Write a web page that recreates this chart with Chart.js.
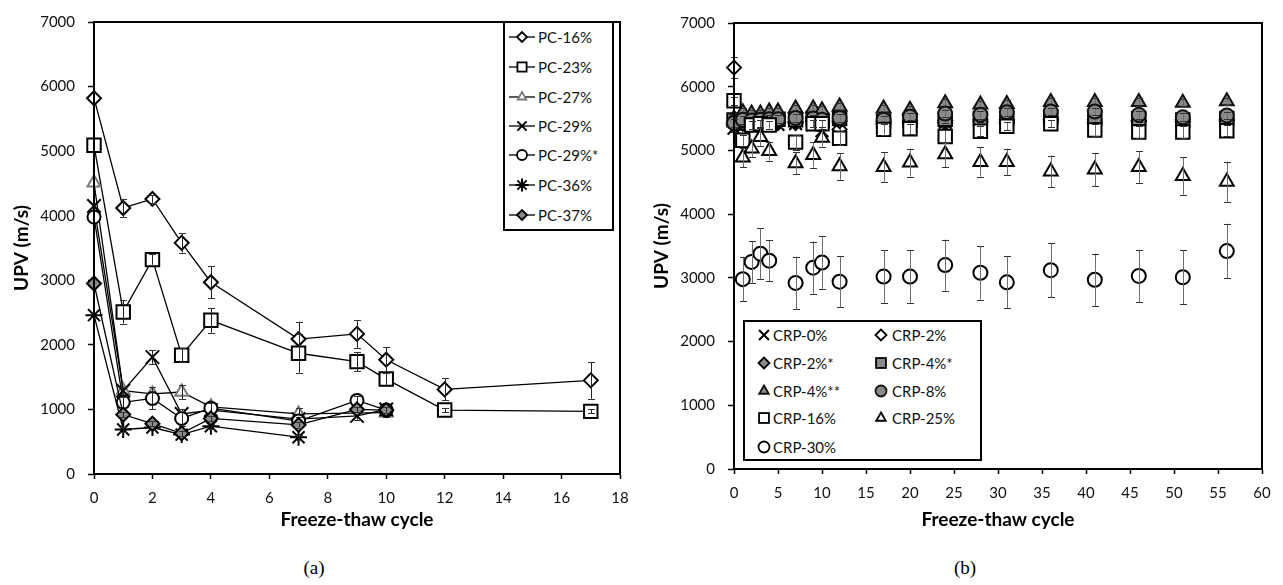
<!DOCTYPE html>
<html><head><meta charset="utf-8">
<script src="https://cdn.jsdelivr.net/npm/chart.js@4/dist/chart.umd.min.js"></script>
<style>
body{margin:0;background:#fff;}
#page{position:relative;width:1283px;height:585px;overflow:hidden;background:#fff;font-family:Lato,sans-serif;}
.wrap{position:absolute;top:0;height:531px;}
.legend{position:absolute;border:2px solid #000;box-sizing:border-box;background:#fff;}
.item{position:absolute;height:16px;display:flex;align-items:center;font-size:15px;white-space:nowrap;color:#111;}
.item svg{flex:none;}
.cap{position:absolute;font-family:'Liberation Serif',serif;font-size:19px;transform:translate(-50%,-50%);color:#000;}
</style></head>
<body><div id="page">
<div class="wrap" style="left:0;width:640px"><canvas id="ca"></canvas></div>
<div class="wrap" style="left:640px;width:643px"><canvas id="cb"></canvas></div>
<div class="legend" style="left:503px;top:21px;width:111px;height:210px"></div>
<div class="legend" style="left:743px;top:320px;width:239px;height:141px"></div>
<div class="cap" style="left:314px;top:568px">(a)</div>
<div class="cap" style="left:965px;top:568px">(b)</div>
</div>
<script>
// ---------- data: chart (a) ----------
const aNames = ['PC-16%','PC-23%','PC-27%','PC-29%','PC-29%*','PC-36%','PC-37%'];
const pc16X = [0,1,2,3,4,7,9,10,12,17];
const pc16Y = [5820,4120,4260,3580,2970,2090,2170,1770,1310,1450];
const pc16E = [0,140,60,150,245,270,215,190,170,285];
const pc23X = [0,1,2,3,4,7,9,10,12,17];
const pc23Y = [5090,2510,3320,1840,2380,1870,1740,1470,990,970];
const pc23E = [0,180,80,110,190,300,150,100,30,30];
const pc27X = [0,1,2,3,4,7,10];
const pc27Y = [4510,1290,1240,1270,1040,930,950];
const pc27E = [0,60,100,110,60,90,60];
const pc29X = [0,1,2,3,4,7,9,10];
const pc29Y = [4150,1290,1810,930,990,850,900,1000];
const pc29E = [0,60,110,80,60,60,60,60];
const pc29sX = [0,1,2,3,4,7,9,10];
const pc29sY = [3980,1110,1170,860,1020,820,1140,990];
const pc29sE = [0,90,170,110,80,60,70,60];
const pc36X = [0,1,2,3,4,7];
const pc36Y = [2460,690,720,610,740,570];
const pc36E = [0,40,40,40,40,40];
const pc37X = [0,1,2,3,4,7,9,10];
const pc37Y = [2950,920,780,630,860,760,1000,990];
const pc37E = [0,40,40,40,40,40,40,40];
const aXTicks = [0,2,4,6,8,10,12,14,16,18];
const yTicks = [0,1000,2000,3000,4000,5000,6000,7000];

// ---------- data: chart (b) ----------
const bNames = ['CRP-0%','CRP-2%','CRP-2%*','CRP-4%*','CRP-4%**','CRP-8%','CRP-16%','CRP-25%','CRP-30%'];
const crpX   = [0,1,2,3,4,5,7,9,10,12,17,20,24,28,31,36,41,46,51,56];
const crp16X = [0,1,2,3,4,7,9,10,12,17,20,24,28,31,36,41,46,51,56];
const crpLX  = [1,2,3,4,7,9,10,12,17,20,24,28,31,36,41,46,51,56];
const crp0Y   = [5350,5380,5390,5400,5400,5410,5420,5400,5310,5320,5410,5420,5440,5430,5440,5450,5430,5420,5430,5430];
const crp2Y   = [6300,5420,5410,5400,5420,5430,5430,5450,5420,5330,5420,5430,5430,5450,5440,5460,5440,5450,5450,5460];
const crp2sY  = [5400,5420,5430,5440,5440,5450,5450,5460,5450,5460,5450,5460,5470,5480,5480,5490,5480,5470,5480,5490];
const crp4sY  = [5480,5470,5480,5470,5480,5490,5480,5500,5470,5500,5460,5470,5490,5500,5510,5520,5510,5500,5480,5500];
const crp4ssY = [5500,5600,5580,5580,5610,5610,5660,5660,5630,5690,5660,5640,5740,5720,5730,5760,5760,5760,5750,5770];
const crp8Y   = [5430,5480,5470,5480,5490,5490,5510,5500,5480,5510,5480,5530,5580,5560,5600,5610,5610,5560,5520,5550];
const crp16Y  = [5780,5160,5400,5420,5400,5130,5420,5420,5190,5330,5340,5220,5300,5380,5420,5320,5290,5290,5310];
const crp25Y  = [4890,5030,5210,4990,4800,4930,5200,4750,4740,4810,4940,4820,4820,4670,4700,4740,4600,4510];
const crp30Y  = [2980,3250,3380,3270,2920,3160,3240,2940,3020,3020,3200,3080,2930,3120,2970,3030,3010,3420];
const crpSmallE = [60,60,60,60,60,60,60,60,60,60,60,60,60,60,60,60,60,60,60,60];
const crp2E   = [170,60,60,60,60,60,60,60,60,60,60,60,60,60,60,60,60,60,60,60];
const crp16E  = [60,90,60,60,60,120,60,60,110,80,80,100,80,60,60,90,100,100,90];
const crp25E  = [150,130,140,150,170,200,140,210,230,220,200,230,210,250,260,250,295,315];
const crp30E  = [350,330,400,320,410,410,410,400,410,410,400,420,410,420,410,410,420,430];
const bXTicks = [0,5,10,15,20,25,30,35,40,45,50,55,60];

// ---------- styles ----------
const GREY = '#8a8a8a';
const aStyles = [
  {ps:'rectRot', r:7, bg:'#fff', bc:'#000'},
  {ps:'rect', r:9.5, bg:'#fff', bc:'#000'},
  {ps:'triangle', r:7.5, bg:'#fff', bc:'#7a7a7a'},
  {ps:'crossRot', r:9.5, bg:'#fff', bc:'#000'},
  {ps:'circle', r:6.5, bg:'#fff', bc:'#000'},
  {ps:'star', r:8.5, bg:'#fff', bc:'#000'},
  {ps:'rectRot', r:7, bg:GREY, bc:'#000'}
];
const bStyles = [
  {ps:'crossRot', r:9, bg:'#fff', bc:'#000'},
  {ps:'rectRot', r:7, bg:'#fff', bc:'#000'},
  {ps:'rectRot', r:7, bg:GREY, bc:'#000'},
  {ps:'rect', r:9.5, bg:GREY, bc:'#000'},
  {ps:'triangle', r:8, bg:GREY, bc:'#111'},
  {ps:'circle', r:7, bg:GREY, bc:'#111'},
  {ps:'rect', r:9.5, bg:'#fff', bc:'#000'},
  {ps:'triangle', r:8, bg:'#fff', bc:'#000'},
  {ps:'circle', r:7, bg:'#fff', bc:'#000'}
];

const aSeries = [[pc16X,pc16Y,pc16E],[pc23X,pc23Y,pc23E],[pc27X,pc27Y,pc27E],[pc29X,pc29Y,pc29E],[pc29sX,pc29sY,pc29sE],[pc36X,pc36Y,pc36E],[pc37X,pc37Y,pc37E]];
const bSeries = [[crpX,crp0Y,crpSmallE],[crpX,crp2Y,crp2E],[crpX,crp2sY,crpSmallE],[crpX,crp4sY,crpSmallE],[crpX,crp4ssY,crpSmallE],[crpX,crp8Y,crpSmallE],[crp16X,crp16Y,crp16E],[crpLX,crp25Y,crp25E],[crpLX,crp30Y,crp30E]];

function pts(xs, ys){ return xs.map((x,i)=>({x:x, y:ys[i]})); }

const errorBars = {
  id:'errorBars',
  afterDatasetDraw(chart, args){
    const ds = chart.data.datasets[args.index];
    if(!ds.errors) return;
    const ctx = chart.ctx, ys = chart.scales.y;
    ctx.save();
    ctx.lineWidth = 1;
    ds.data.forEach((p,i)=>{
      const e = ds.errors[i]; if(!e) return;
      const el = args.meta.data[i];
      const x = Math.round(el.x)+0.5;
      const y1 = ys.getPixelForValue(p.y+e), y2 = ys.getPixelForValue(p.y-e);
      ctx.strokeStyle = ds.errColor;
      ctx.beginPath(); ctx.moveTo(x,y1); ctx.lineTo(x,y2); ctx.stroke();
      ctx.strokeStyle = '#333';
      ctx.beginPath();
      ctx.moveTo(x-3.5,Math.round(y1)+0.5); ctx.lineTo(x+3.5,Math.round(y1)+0.5);
      ctx.moveTo(x-3.5,Math.round(y2)+0.5); ctx.lineTo(x+3.5,Math.round(y2)+0.5);
      ctx.stroke();
    });
    ctx.restore();
  }
};
const frame = {
  id:'frame',
  afterDraw(chart){
    const a = chart.chartArea, ctx = chart.ctx;
    ctx.save(); ctx.strokeStyle='#000'; ctx.lineWidth=2;
    ctx.strokeRect(a.left, a.top, a.right-a.left, a.bottom-a.top);
    ctx.restore();
  }
};

Chart.defaults.font.family = 'Lato';
Chart.defaults.color = '#111';

function makeOptions(xTicks, pad, xAxisH){
  return {
    responsive:true, maintainAspectRatio:false, animation:false, devicePixelRatio:1,
    layout:{padding:pad},
    plugins:{legend:{display:false}, tooltip:{enabled:false}},
    scales:{
      x:{type:'linear', min:xTicks[0], max:xTicks[xTicks.length-1],
         afterBuildTicks:s=>{s.ticks = xTicks.map(v=>({value:v}));},
         afterFit:s=>{s.height = xAxisH;},
         grid:{drawOnChartArea:false, drawTicks:true, tickLength:5, tickWidth:1.5, tickColor:'#000'},
         border:{display:true, color:'#000', width:2},
         ticks:{font:{size:15}, padding:10, maxRotation:0, autoSkip:false, callback:v=>String(v)},
         title:{display:true, text:'Freeze-thaw cycle', font:{size:19, weight:'bold'}, color:'#000', padding:0}},
      y:{type:'linear', min:yTicks[0], max:yTicks[yTicks.length-1],
         afterBuildTicks:s=>{s.ticks = yTicks.map(v=>({value:v}));},
         afterFit:s=>{s.width = 84;},
         grid:{drawOnChartArea:false, drawTicks:true, tickLength:6, tickWidth:1.5, tickColor:'#000'},
         border:{display:true, color:'#000', width:2},
         ticks:{font:{size:15}, padding:13, callback:v=>String(v)},
         title:{display:true, text:'UPV (m/s)', font:{size:19, weight:'bold'}, color:'#000', padding:0}}
    }
  };
}

function makeDatasets(names, series, styles, line, errColor){
  return names.map((n,i)=>{
    const [xs,ys,es] = series[i]; const st = styles[i];
    return {label:n, data:pts(xs,ys), errors:es, errColor:errColor, clip:false,
      showLine:line, borderColor:'#000', borderWidth:1.3,
      pointStyle:st.ps, pointRadius:st.r, pointBackgroundColor:st.bg, pointBorderColor:st.bc,
      pointBorderWidth:2, order:names.length-i};
  });
}

new Chart(document.getElementById('ca'), {
  type:'scatter',
  data:{datasets:makeDatasets(aNames, aSeries, aStyles, true, '#222')},
  options:makeOptions(aXTicks, {left:10, right:20, top:15, bottom:0}, 57),
  plugins:[errorBars, frame]
});
new Chart(document.getElementById('cb'), {
  type:'scatter',
  data:{datasets:makeDatasets(bNames, bSeries, bStyles, false, '#6e6e6e')},
  options:makeOptions(bXTicks, {left:10, right:21, top:23, bottom:0}, 62),
  plugins:[errorBars, frame]
});

// ---------- legends (HTML) ----------
function markerSVG(st, cx, cy, r, withLine, w, h){
  let s = `<svg width="${w}" height="${h}" xmlns="http://www.w3.org/2000/svg">`;
  if(withLine) s += `<line x1="0" y1="${cy}" x2="${w}" y2="${cy}" stroke="#000" stroke-width="1.3"/>`;
  const a = `fill="${st.bg}" stroke="${st.bc}" stroke-width="1.8"`;
  const d = r*Math.SQRT1_2;
  switch(st.ps){
    case 'rectRot': s += `<polygon ${a} points="${cx-r},${cy} ${cx},${cy-r} ${cx+r},${cy} ${cx},${cy+r}"/>`; break;
    case 'rect': s += `<rect ${a} x="${cx-d}" y="${cy-d}" width="${2*d}" height="${2*d}"/>`; break;
    case 'triangle': s += `<polygon ${a} points="${cx},${cy-r} ${cx+r*0.866},${cy+r/2} ${cx-r*0.866},${cy+r/2}"/>`; break;
    case 'circle': s += `<circle ${a} cx="${cx}" cy="${cy}" r="${r}"/>`; break;
    case 'crossRot': s += `<path stroke="${st.bc}" stroke-width="2" d="M${cx-d} ${cy-d}L${cx+d} ${cy+d}M${cx+d} ${cy-d}L${cx-d} ${cy+d}"/>`; break;
    case 'star': s += `<path stroke="${st.bc}" stroke-width="2" d="M${cx-d} ${cy-d}L${cx+d} ${cy+d}M${cx+d} ${cy-d}L${cx-d} ${cy+d}M${cx} ${cy-r}L${cx} ${cy+r}M${cx-r} ${cy}L${cx+r} ${cy}"/>`; break;
  }
  return s + '</svg>';
}
const page = document.getElementById('page');
function addItem(left, cy, svg, text, gap){
  const d = document.createElement('div');
  d.className = 'item';
  d.style.left = left+'px'; d.style.top = (cy-8)+'px';
  d.innerHTML = svg + `<span style="margin-left:${gap}px">${text}</span>`;
  page.appendChild(d);
}
const aRows = [37,67,97,126,155,185,215];
aNames.forEach((n,i)=>{
  const st = Object.assign({}, aStyles[i], {r: aStyles[i].ps==='rect'||aStyles[i].ps==='crossRot'||aStyles[i].ps==='star' ? 6.5 : 5});
  addItem(509, aRows[i], markerSVG(st, 13, 8, st.r, true, 26, 16), n, 3);
});
const bRows = [335,363,391,418,447];
bNames.forEach((n,i)=>{
  const col = i%2, row = Math.floor(i/2);
  const st = Object.assign({}, bStyles[i], {r: bStyles[i].ps==='rect'||bStyles[i].ps==='crossRot' ? 7 : 5.5});
  addItem(col===0 ? 757 : 874, bRows[row], markerSVG(st, 7, 8, st.r, false, 14, 16), n, col===0 ? 2 : 4);
});
</script>
</body></html>
